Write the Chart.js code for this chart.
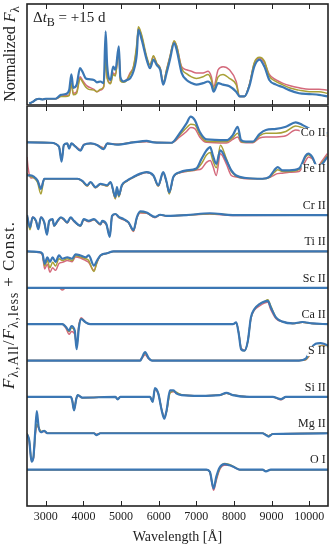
<!DOCTYPE html>
<html>
<head>
<meta charset="utf-8">
<script src="https://cdn.jsdelivr.net/npm/chart.js@4.4.1/dist/chart.umd.min.js"></script>
<style>
  body { margin: 0; background: #fff; }
  #wrap { position: relative; width: 332px; height: 550px; font-family: "Liberation Serif", serif; color: #222; }
  .box { position: absolute; left: 0; width: 332px; }
  .ylab { position: absolute; white-space: nowrap; text-align: center; transform: rotate(-90deg); line-height: 18px; height: 18px; }
  sub { font-size: 80%; vertical-align: -0.3em; line-height: 0; }
  #note { position: absolute; left: 33px; top: 9px; font-size: 15px; white-space: nowrap; }
</style>
</head>
<body>
<div id="wrap">
  <div class="box" style="top:0;height:106px"><canvas id="topChart"></canvas></div>
  <div class="box" style="top:106px;height:444px"><canvas id="botChart"></canvas></div>
  <div class="ylab" style="left:-90px;top:45px;width:200px;font-size:16px">Normalized <i>F</i><sub>λ</sub></div>
  <div class="ylab" style="left:-111px;top:296px;width:240px;font-size:17px;letter-spacing:1px"><i>F</i><sub>λ,All</sub>/<i>F</i><sub>λ,less</sub><span style="margin:0 5px">+</span>Const.</div>
  <div id="note">Δ<i>t</i><sub>B</sub> = +15 d</div>
</div>
<script>
// x ticks shared by both panels
const xTicks = [3000, 4000, 5000, 6000, 7000, 8000, 9000, 10000];

const redCol = '#d46a7c';
const oliveCol = '#a8a036';
const blueCol = '#3b77b4';

// top panel: normalized spectra
const waveTop = [2560,2650,2740,2820,2910,3000,3130,3260,3400,3530,3620,3680,3730,3820,3910,3970,4060,4140,4280,4360,4450,4540,4590,4630,4720,4790,4850,4940,4980,5070,5160,5240,5330,5420,5460,5550,5680,5770,5860,5950,6040,6120,6210,6300,6410,6480,6610,6740,6870,7000,7180,7310,7400,7460,7580,7710,7880,8060,8150,8280,8410,8540,8680,8810,8940,9120,9290,9470,9730,10000,10260,10480];
const redTop = [.02,.04,.07,.08,.07,.08,.08,.08,.11,.12,.13,.26,.15,.17,.36,.32,.26,.23,.20,.17,.19,.24,.62,.36,.28,.41,.39,.70,.32,.30,.33,.41,.49,.75,.98,.87,.60,.51,.62,.53,.47,.28,.45,.62,.81,.75,.49,.45,.43,.41,.41,.43,.36,.23,.45,.49,.45,.30,.11,.11,.26,.53,.60,.54,.39,.32,.28,.25,.22,.20,.20,.19];
const oliveTop = [.02,.04,.07,.08,.07,.08,.08,.08,.11,.11,.12,.28,.13,.15,.34,.30,.23,.20,.19,.17,.20,.23,.60,.34,.27,.39,.37,.71,.31,.29,.32,.39,.49,.79,1.00,.89,.62,.51,.63,.53,.47,.28,.45,.62,.82,.75,.47,.40,.36,.34,.36,.39,.32,.20,.36,.39,.34,.26,.11,.11,.26,.54,.61,.56,.37,.30,.26,.22,.19,.17,.17,.15];
const blueTop = [.02,.04,.07,.08,.07,.08,.08,.08,.13,.14,.19,.39,.22,.26,.47,.43,.34,.33,.32,.29,.30,.28,.94,.51,.32,.49,.45,.75,.36,.30,.32,.34,.43,.66,.96,.83,.58,.47,.58,.51,.45,.26,.41,.58,.79,.70,.41,.32,.28,.26,.28,.30,.26,.17,.28,.26,.24,.17,.11,.11,.24,.49,.58,.49,.32,.26,.23,.19,.15,.14,.13,.11];

// bottom panel: ratio spectra, one block per ion (deviation from its constant)
const ions = ['Co II', 'Fe II', 'Cr II', 'Ti II', 'Sc II', 'Ca II', 'S II', 'Si II', 'Mg II', 'O I'];
const ionOffsets = [10, 9, 8, 7, 6, 5, 4, 3, 2, 1];

const waveCo = [2500,3130,3350,3420,3480,3570,3620,3680,3790,3920,4010,4190,4360,4540,4630,4890,5330,5680,5860,6340,6560,6740,6850,6960,7090,7270,7800,7970,8100,8190,8320,8500,8680,8850,9120,9380,9640,9820,10080,10350,10480];
const redCo = [0,-0.01,-0.12,-0.45,-0.07,-0.03,-0.15,-0.03,-0.11,-0.20,-0.06,-0.03,-0.07,-0.15,-0.03,-0.05,0,0.02,0,-0.01,0.15,0.30,0.41,0.38,0.15,0.0,-0.02,0.08,0.15,0.0,-0.01,-0.01,0.12,0.15,0.15,0.18,0.34,0.30,0.20,0.18,0.17];
const oliveCo = [0,-0.01,-0.12,-0.48,-0.07,-0.03,-0.16,-0.03,-0.12,-0.22,-0.07,-0.03,-0.07,-0.17,-0.03,-0.06,0,0.03,0,-0.01,0.20,0.40,0.50,0.48,0.22,0.03,0.02,0.13,0.25,0.03,0,0,0.18,0.25,0.25,0.30,0.45,0.40,0.27,0.22,0.20];
const blueCo = [0,-0.01,-0.12,-0.53,-0.07,-0.03,-0.17,-0.03,-0.12,-0.23,-0.07,-0.03,-0.07,-0.19,-0.03,-0.06,0,0.04,0,-0.01,0.25,0.52,0.71,0.61,0.29,0.08,0.06,0.20,0.43,0.06,0.02,0.02,0.23,0.34,0.37,0.43,0.55,0.48,0.34,0.29,0.25];

const waveFe = [2500,2530,2600,2690,2780,2870,2960,3090,3570,3840,3970,4100,4190,4320,4450,4630,4720,4850,4890,4940,5020,5160,5330,5510,5680,5860,5990,6120,6210,6280,6390,6560,6740,7000,7140,7270,7370,7440,7530,7640,7800,7930,8060,8320,8760,8940,9070,9160,9290,9470,9730,9910,9980,10080,10220,10350,10480];
const redFe = [0.6,0.3,0.02,0.03,-0.05,-0.25,0,0,0,0,-0.07,-0.2,-0.1,-0.25,-0.15,-0.2,-0.1,-0.55,-0.25,-0.48,-0.2,-0.06,0.04,0.12,0.17,0.08,-0.2,0.16,-0.1,-0.4,0.04,0.16,0.2,0.24,0.28,0.45,0.5,0.35,0.09,0.69,0.4,0.09,0.05,0,0,0.03,0.1,0.14,0.15,0.18,0.2,0.5,0.6,0.55,0.35,0.5,0.69];
const oliveFe = [0.15,0.1,0.06,0.02,-0.1,-0.42,0,0,0,0,-0.07,-0.2,-0.1,-0.25,-0.15,-0.2,-0.1,-0.55,-0.25,-0.5,-0.2,-0.06,0.04,0.13,0.18,0.08,-0.2,0.17,-0.1,-0.42,0.04,0.17,0.21,0.26,0.42,0.65,0.72,0.5,0.3,0.92,0.55,0.2,0.07,0.01,0,0.04,0.17,0.25,0.2,0.2,0.25,0.6,0.66,0.58,0.33,0.45,0.63];
const blueFe = [0.1,0.09,0.09,0.05,-0.05,-0.28,0,0,0,0,-0.06,-0.18,-0.09,-0.23,-0.14,-0.18,-0.09,-0.5,-0.23,-0.46,-0.18,-0.05,0.05,0.14,0.18,0.09,-0.18,0.18,-0.09,-0.37,0.05,0.18,0.23,0.28,0.55,0.78,0.87,0.64,0.41,0.78,0.5,0.23,0.09,0.02,0,0.05,0.23,0.32,0.23,0.23,0.28,0.64,0.69,0.6,0.32,0.41,0.6];

const waveCr = [2500,2580,2650,2740,2800,2870,2960,3030,3090,3180,3220,3310,3400,3480,3570,3660,3750,3920,4010,4140,4280,4450,4500,4610,4700,4760,4850,4940,5070,5200,5330,5420,5510,5680,5900,6040,6210,6740,7360,7970,10500];
const redCr = [0,-0.3,-0.05,-0.18,-0.35,-0.05,-0.22,-0.5,-0.18,-0.13,-0.3,-0.18,-0.08,-0.13,-0.22,-0.08,-0.18,-0.3,-0.13,-0.18,-0.13,-0.27,-0.18,-0.27,-0.55,-0.04,0.02,-0.07,-0.13,-0.22,-0.45,-0.08,0.06,0.05,-0.07,0,-0.03,0,0.03,-0.01,0];
const oliveCr = [0,-0.4,-0.07,-0.17,-0.35,-0.07,-0.21,-0.5,-0.17,-0.12,-0.3,-0.17,-0.07,-0.12,-0.21,-0.07,-0.17,-0.3,-0.12,-0.17,-0.12,-0.26,-0.17,-0.26,-0.57,-0.03,0.03,-0.06,-0.12,-0.21,-0.43,-0.07,0.08,0.06,-0.06,0.01,-0.02,0,0.04,0,0];
const blueCr = [0,-0.34,-0.06,-0.16,-0.39,-0.06,-0.2,-0.54,-0.16,-0.11,-0.29,-0.16,-0.06,-0.11,-0.2,-0.06,-0.16,-0.29,-0.11,-0.16,-0.11,-0.25,-0.16,-0.25,-0.6,-0.02,0.03,-0.05,-0.11,-0.2,-0.41,-0.06,0.1,0.07,-0.05,0.01,-0.02,0,0.05,0,0];

const waveTi = [2500,2820,2910,2970,3040,3110,3180,3260,3350,3440,3570,3700,3790,3920,4060,4140,4280,4360,4450,4630,4800,10500];
const redTi = [0,-0.03,-0.1,-0.48,-0.35,-0.57,-0.45,-0.52,-0.33,-0.3,-0.25,-0.28,-0.15,-0.18,-0.25,-0.3,-0.52,-0.3,-0.12,-0.05,0,0];
const oliveTi = [0,-0.02,-0.08,-0.4,-0.25,-0.45,-0.3,-0.4,-0.2,-0.25,-0.2,-0.25,-0.12,-0.15,-0.2,-0.25,-0.55,-0.3,-0.12,-0.05,0,0];
const blueTi = [0,-0.02,-0.06,-0.34,-0.16,-0.29,-0.16,-0.29,-0.11,-0.2,-0.16,-0.2,-0.08,-0.11,-0.16,-0.11,-0.39,-0.25,-0.11,-0.05,0,0];

const waveSc = [2500,3350,3440,3530,10500];
const redSc = [0,0,-0.06,0,0];
const oliveSc = [0,0,-0.02,0,0];
const blueSc = [0,0,0,0,0];

const waveCa = [2500,3440,3530,3620,3680,3770,3820,3880,3940,4060,4190,7970,8060,8130,8190,8280,8370,8450,8540,8680,8810,8900,8980,9120,9290,9560,9820,10080,10500];
const redCa = [0,0,-0.1,-0.28,-0.2,-0.28,-0.6,-0.02,0.18,0.05,0,0,0.04,-0.25,-0.65,-0.72,-0.45,0.15,0.38,0.5,0.58,0.6,0.4,0.15,0.07,0.02,0.05,0.02,0];
const oliveCa = [0,0,-0.08,-0.2,-0.1,-0.2,-0.62,-0.05,0.15,0.05,0,0,0.04,-0.26,-0.67,-0.73,-0.47,0.16,0.4,0.55,0.62,0.67,0.5,0.18,0.07,0.02,0.05,0.02,0];
const blueCa = [0,0,-0.07,-0.18,-0.05,-0.18,-0.69,-0.09,0.14,0.05,0,0,0.05,-0.28,-0.69,-0.73,-0.46,0.18,0.41,0.55,0.62,0.64,0.46,0.18,0.07,0.02,0.06,0.02,0];

const waveS = [2500,5510,5550,5640,5730,5820,9730,9910,10040,10170,10300,10390,10500];
const redS = [0,0,0.05,0.16,0.05,0,0,0.02,0.18,0.32,0.4,0.42,0.4];
const oliveS = [0,0,0.06,0.2,0.06,0,0,0.03,0.2,0.34,0.4,0.4,0.38];
const blueS = [0,0,0.07,0.23,0.07,0,0,0.05,0.32,0.46,0.48,0.46,0.41];

const waveSi = [2500,3660,3700,3750,3810,3850,3970,4850,4910,4980,5770,5840,5900,5990,6080,6150,6210,6300,6390,6480,6610,7090,7620,7800,7970,8410,9030,9250,9380,10500];
const redSi = [0,0,-0.08,-0.35,-0.05,0.04,-0.02,0,-0.06,0,0,-0.12,0.2,0.08,-0.35,-0.55,-0.38,0.12,0.14,0.1,0.05,0.03,0.05,0.1,0.05,0,0,-0.08,0,0];
const oliveSi = [0,0,-0.08,-0.36,-0.05,0.05,-0.02,0,-0.06,0,0,-0.13,0.22,0.1,-0.36,-0.57,-0.4,0.1,0.16,0.12,0.06,0.03,0.05,0.1,0.05,0,0,-0.07,0,0];
const blueSi = [0,0,-0.09,-0.37,-0.05,0.05,-0.02,0,-0.07,0,0,-0.14,0.24,0.09,-0.37,-0.6,-0.37,0.18,0.18,0.09,0.05,0.03,0.05,0.11,0.05,0,0,-0.06,0,0];

const waveMg = [2500,2560,2620,2670,2720,2760,2810,2870,2960,3040,4280,4350,4450,8760,8850,8920,9030,10500];
const redMg = [0,-0.25,-0.75,-0.7,-0.05,0.2,0.15,0.05,0.05,0,0,-0.03,0,0,-0.04,-0.07,-0.02,0];
const oliveMg = [0,-0.2,-0.72,-0.68,0,0.25,0.17,0.05,0.06,0,0,-0.04,0,0,-0.04,-0.07,-0.02,0];
const blueMg = [-0.02,-0.2,-0.78,-0.66,0.07,0.61,0.17,0.03,0.07,0,0,-0.05,0,0,-0.05,-0.09,-0.02,0];

const waveO = [2500,7270,7360,7460,7530,7620,7750,7880,8020,8150,8760,8850,8980,10500];
const redO = [0,0,-0.07,-0.57,-0.3,0,0.12,0.12,0.06,0,0,-0.04,0,0];
const oliveO = [0,0,-0.06,-0.5,-0.25,0.03,0.17,0.14,0.07,0,0,-0.04,0,0];
const blueO = [0,0,-0.06,-0.52,-0.2,0.06,0.15,0.12,0.06,0,0,-0.05,0,0];

const ionTable = [
  [waveCo, redCo, oliveCo, blueCo],
  [waveFe, redFe, oliveFe, blueFe],
  [waveCr, redCr, oliveCr, blueCr],
  [waveTi, redTi, oliveTi, blueTi],
  [waveSc, redSc, oliveSc, blueSc],
  [waveCa, redCa, oliveCa, blueCa],
  [waveS, redS, oliveS, blueS],
  [waveSi, redSi, oliveSi, blueSi],
  [waveMg, redMg, oliveMg, blueMg],
  [waveO, redO, oliveO, blueO]
];

const pts = (waves, vals, off) => waves.map((w, i) => ({x: w, y: vals[i] + off}));

function line(data, color, width, order) {
  return {
    data: data,
    borderColor: color,
    borderWidth: width,
    pointRadius: 0,
    fill: false,
    cubicInterpolationMode: 'monotone',
    order: order
  };
}

// inward ticks on top and bottom + full frame
const frameTicks = {
  id: 'frameTicks',
  afterDraw(chart) {
    const {ctx, chartArea: a, scales: {x}} = chart;
    ctx.save();
    ctx.strokeStyle = '#222';
    ctx.lineWidth = 1;
    xTicks.forEach(v => {
      const px = Math.round(x.getPixelForValue(v)) + 0.5;
      ctx.beginPath();
      ctx.moveTo(px, a.top);
      ctx.lineTo(px, a.top + 5);
      ctx.moveTo(px, a.bottom);
      ctx.lineTo(px, a.bottom - 5);
      ctx.stroke();
    });
    ctx.lineWidth = 1.6;
    ctx.strokeRect(a.left, a.top, a.right - a.left, a.bottom - a.top);
    ctx.restore();
  }
};

// ion names on a small white box, over the curves
const ionLabels = {
  id: 'ionLabels',
  afterDatasetsDraw(chart) {
    const {ctx, scales: {x, y}} = chart;
    ctx.save();
    ctx.font = '12px "Liberation Serif"';
    ctx.textAlign = 'right';
    ctx.textBaseline = 'middle';
    ions.forEach((name, i) => {
      const px = x.getPixelForValue(10440);
      const py = y.getPixelForValue(ionOffsets[i] + 0.26);
      const w = ctx.measureText(name).width;
      ctx.fillStyle = '#fff';
      ctx.fillRect(px - w - 1, py - 5, w + 2, 10);
      ctx.fillStyle = '#222';
      ctx.fillText(name, px, py);
    });
    ctx.restore();
  }
};

const baseOpts = {
  responsive: true,
  maintainAspectRatio: false,
  animation: false,
  plugins: { legend: { display: false }, tooltip: { enabled: false } }
};

new Chart(document.getElementById('topChart'), {
  type: 'line',
  data: {
    datasets: [
      line(pts(waveTop, redTop, 0), redCol, 1.5, 2),
      line(pts(waveTop, oliveTop, 0), oliveCol, 1.5, 1),
      line(pts(waveTop, blueTop, 0), blueCol, 2.2, 0)
    ]
  },
  options: {
    ...baseOpts,
    layout: { padding: { left: 27, right: 4, top: 4, bottom: 1 } },
    scales: {
      x: { type: 'linear', min: 2500, max: 10500, display: false },
      y: { min: 0, max: 1.29, display: false }
    }
  },
  plugins: [frameTicks]
});

const botSets = [];
ionTable.forEach((row, i) => {
  const off = ionOffsets[i];
  botSets.push(line(pts(row[0], row[1], off), redCol, 1.5, 2));
  botSets.push(line(pts(row[0], row[2], off), oliveCol, 1.5, 1));
  botSets.push(line(pts(row[0], row[3], off), blueCol, 2.2, 0));
});

new Chart(document.getElementById('botChart'), {
  type: 'line',
  data: { datasets: botSets },
  options: {
    ...baseOpts,
    layout: { padding: { left: 27, right: 4, top: 0, bottom: 0 } },
    scales: {
      x: {
        type: 'linear',
        min: 2500,
        max: 10500,
        grid: { display: false, drawTicks: false },
        border: { display: false },
        afterBuildTicks: s => { s.ticks = xTicks.map(v => ({value: v})); },
        afterFit: s => { s.height = 44; },
        ticks: {
          padding: 4,
          maxRotation: 0,
          color: '#222',
          font: { family: 'Liberation Serif', size: 12 },
          callback: v => String(v)
        },
        title: {
          display: true,
          text: 'Wavelength [Å]',
          color: '#222',
          font: { family: 'Liberation Serif', size: 14 },
          padding: { top: 2, bottom: 4 }
        }
      },
      y: { min: 0, max: 11, display: false }
    }
  },
  plugins: [frameTicks, ionLabels]
});
</script>
</body>
</html>
